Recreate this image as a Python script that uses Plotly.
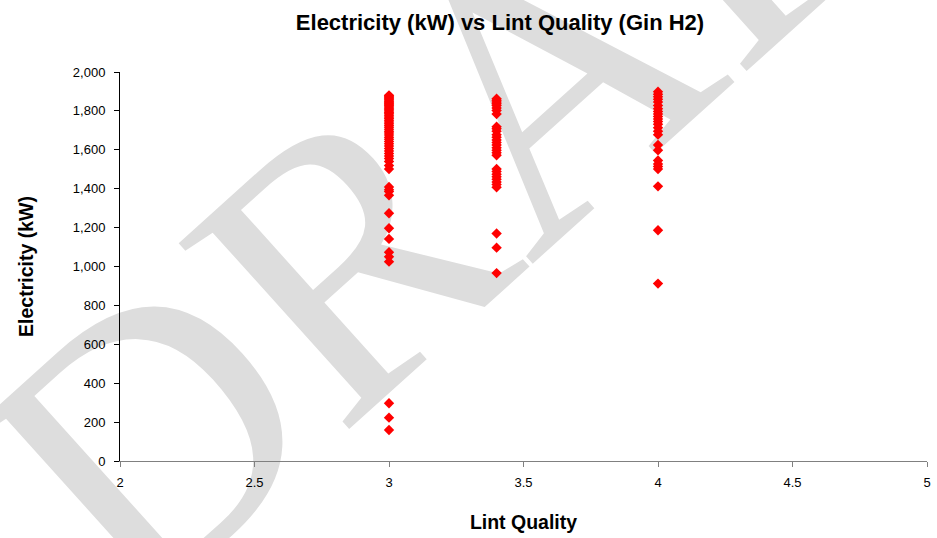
import plotly.graph_objects as go

# Lint quality grades and measured electricity draw (kW) for Gin H2
q3_kw = [1880, 1876, 1871, 1866, 1861, 1856, 1850, 1844, 1838, 1832, 1826, 1820,
         1813, 1806, 1799, 1792, 1785, 1777, 1769, 1761, 1752, 1743, 1734, 1725,
         1716, 1706, 1696, 1686, 1676, 1665, 1654, 1643, 1631, 1619, 1607, 1594,
         1581, 1568, 1555, 1540, 1519, 1501, 1409, 1395, 1386, 1366, 1274, 1197,
         1142, 1073, 1050, 1025, 297, 223, 159]
q34_kw = [1863, 1855, 1846, 1837, 1828, 1815, 1802, 1784, 1719, 1708, 1696, 1678,
          1665, 1651, 1638, 1625, 1610, 1598, 1585, 1572, 1501, 1488, 1474, 1461,
          1448, 1434, 1421, 1407, 1170, 1097, 966]
q4_kw = [1899, 1886, 1873, 1860, 1846, 1828, 1811, 1797, 1784, 1771, 1758, 1745,
         1731, 1713, 1696, 1678, 1625, 1598, 1545, 1527, 1514, 1501, 1412, 1186, 912]

lint_quality = [3.0] * len(q3_kw) + [3.4] * len(q34_kw) + [4.0] * len(q4_kw)
electricity = q3_kw + q34_kw + q4_kw

FONT = "Arial, Liberation Sans, sans-serif"

fig = go.Figure(
    go.Scatter(
        x=lint_quality,
        y=electricity,
        mode="markers",
        marker=dict(symbol="diamond", size=8, color="#FF0000"),
        showlegend=False,
    )
)

# "DRAFT" watermark: a label on an invisible shape so it sits underneath the markers
fig.add_shape(
    type="rect",
    xref="paper",
    yref="paper",
    x0=0.444,
    x1=0.464,
    y0=0.985,
    y1=1.005,
    layer="below",
    line=dict(width=0),
    fillcolor="rgba(0,0,0,0)",
    label=dict(
        text="DRAFT",
        textangle=-42,
        textposition="middle center",
        font=dict(family="Liberation Serif, Times New Roman, serif", size=385, color="#dddddd"),
    ),
)

fig.update_layout(
    width=937,
    height=538,
    paper_bgcolor="white",
    plot_bgcolor="rgba(0,0,0,0)",
    margin=dict(l=120, r=10, t=72, b=77),
    font=dict(family=FONT, color="black", size=13),
    title=dict(
        text="<b>Electricity (kW) vs Lint Quality (Gin H2)</b>",
        font=dict(size=22, family=FONT, color="black"),
        x=(500 - 120) / 807,
        xref="paper",
        xanchor="center",
        y=1 - 22 / 538,
        yanchor="middle",
    ),
)
fig.update_xaxes(
    range=[2, 5],
    dtick=0.5,
    automargin=False,
    showgrid=False,
    zeroline=False,
    showline=True,
    linecolor="#808080",
    linewidth=1,
    ticks="outside",
    ticklen=5,
    tickcolor="#808080",
    tickfont=dict(size=13),
    ticklabelstandoff=4,
    title=dict(text="<b>Lint Quality</b>", font=dict(size=19.5), standoff=26),
)
fig.update_yaxes(
    range=[0, 2000],
    dtick=200,
    tickformat=",",
    automargin=False,
    showgrid=False,
    zeroline=False,
    showline=True,
    linecolor="black",
    linewidth=1,
    ticks="outside",
    ticklen=5,
    tickcolor="black",
    tickfont=dict(size=13),
    ticklabelstandoff=6,
    title=dict(text="<b>Electricity (kW)</b>", font=dict(size=19.5), standoff=34),
)

fig.write_html(
    "out.html",
    config={"displayModeBar": False},
    post_script="document.body.style.margin = '0';",
)
